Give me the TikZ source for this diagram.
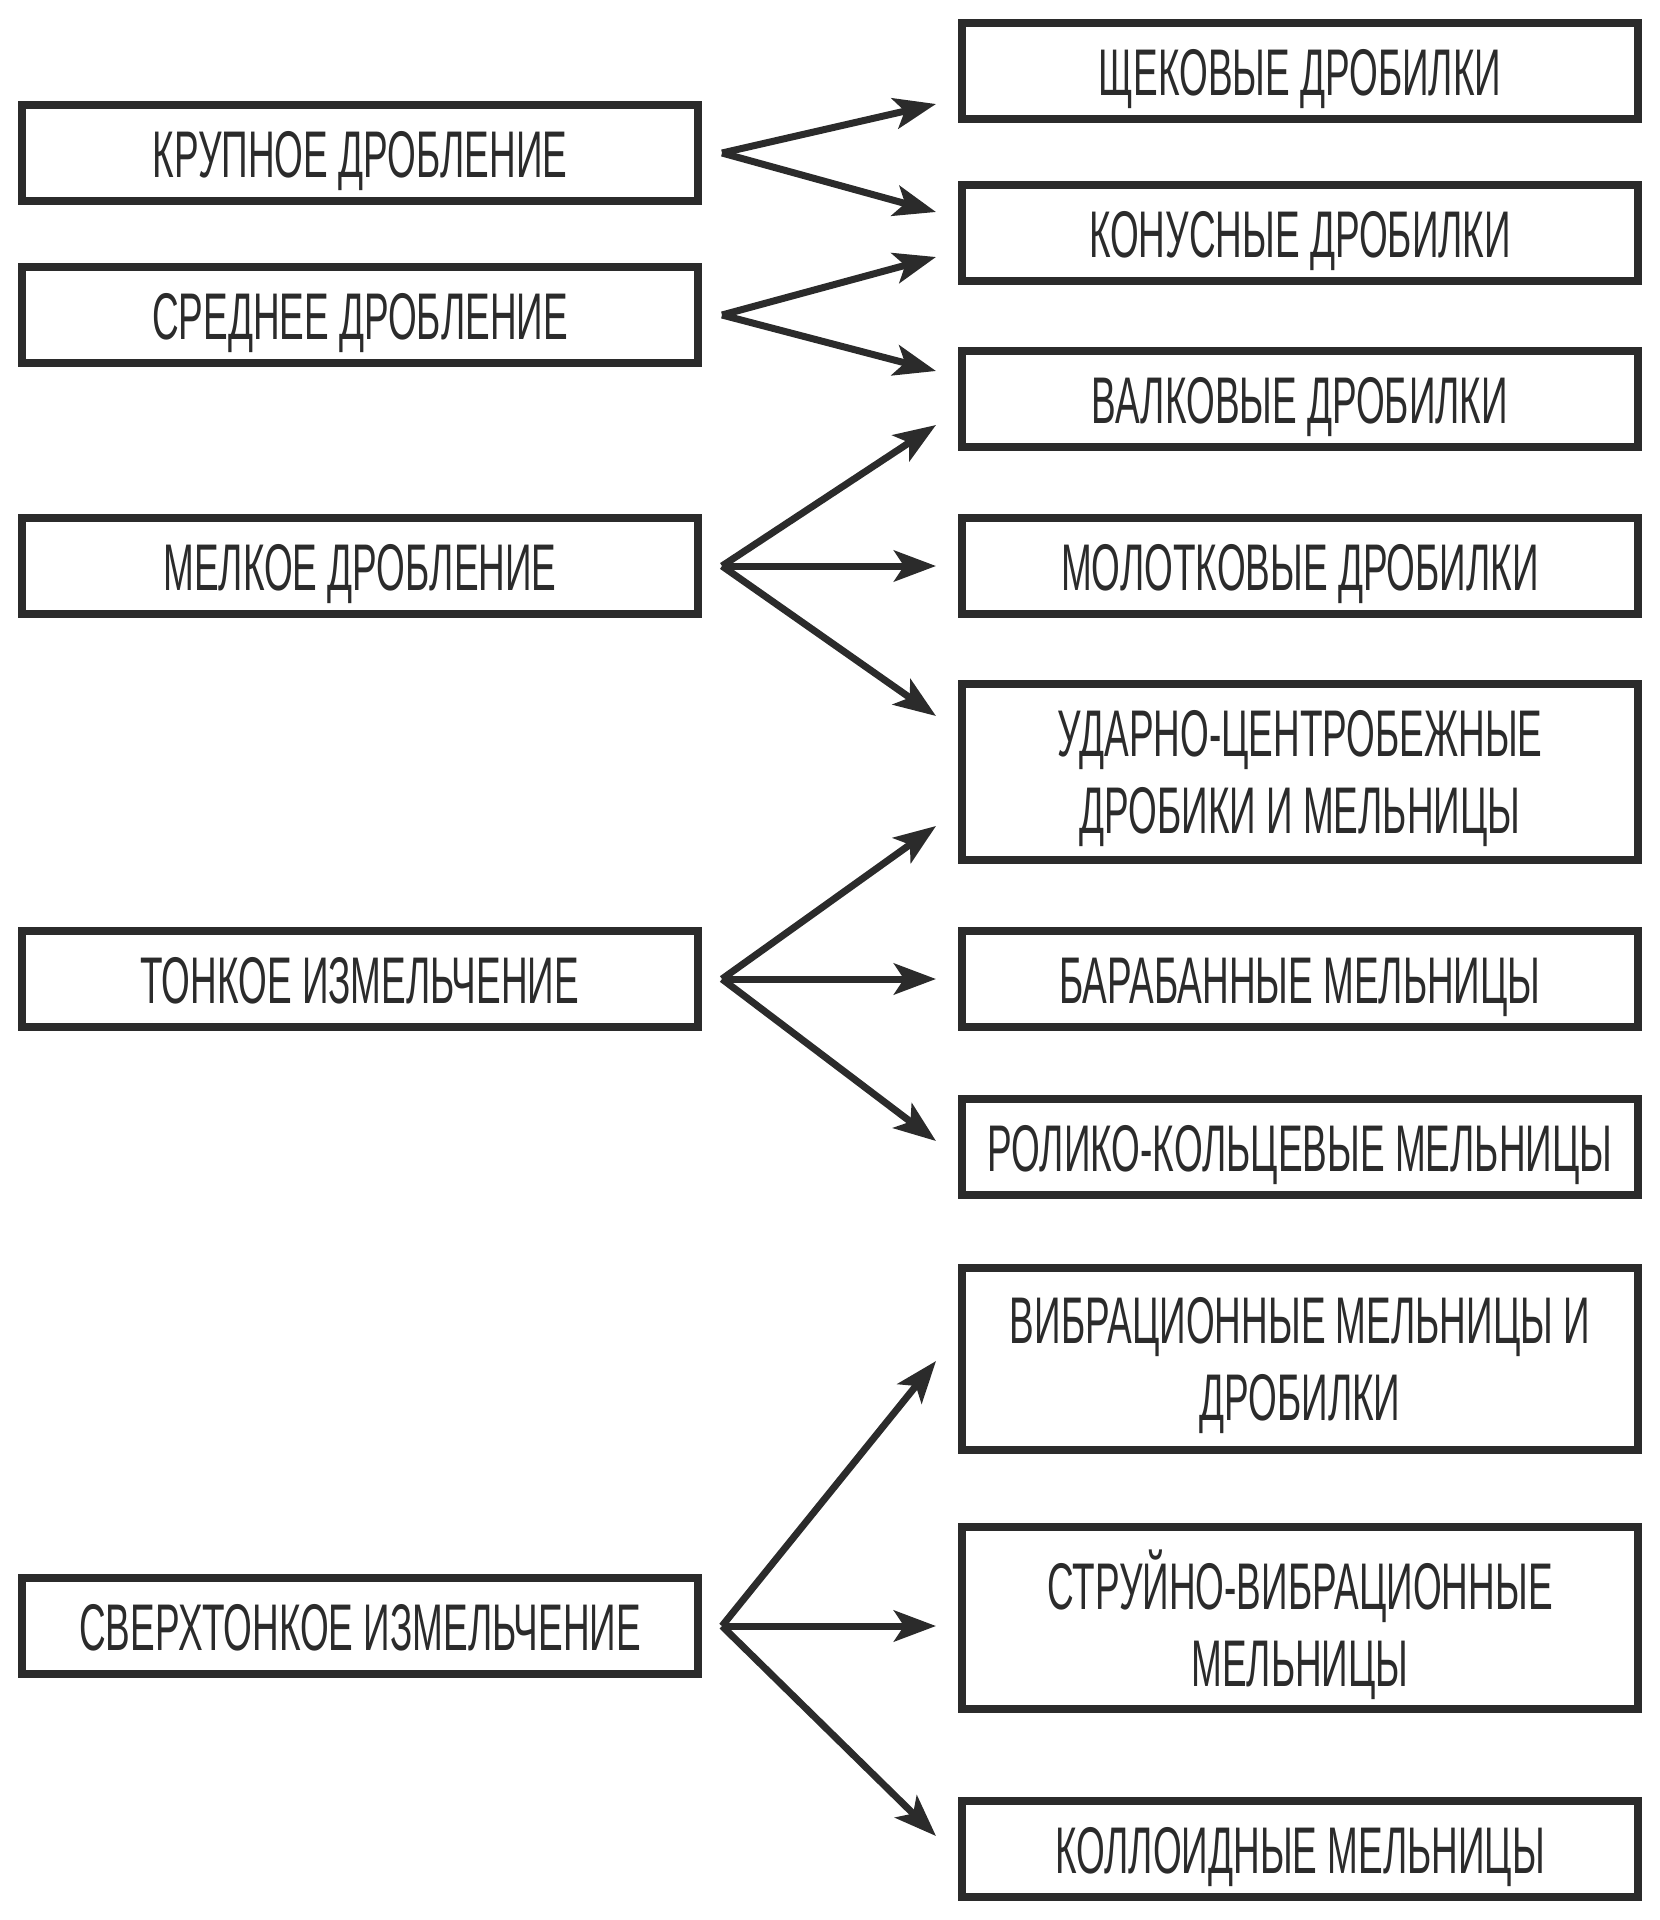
\documentclass[tikz,border=0pt]{standalone}
\usepackage{fontspec}
\setmainfont[FakeStretch=0.56]{Liberation Sans}
\usepackage{tikz}
\usetikzlibrary{arrows.meta}
\definecolor{schemegray}{HTML}{2B2B2B}
\tikzset{
	stagebox/.style={rectangle, draw=schemegray, text=schemegray, line width=8pt, minimum width=676pt, minimum height=96pt, inner sep=0pt, font=\fontsize{66}{77}\selectfont, text height=48pt, text depth=0pt},
	machinebox/.style={stagebox},
	machineboxtwo/.style={stagebox, align=center, text height=, text depth=0pt},
	fanarrow/.style={draw=schemegray, line width=7pt, line join=miter, -{Stealth[length=42pt, width=31pt, inset=10pt]}}
}

\begin{document}
\begin{tikzpicture}[x=1pt, y=-1pt]
			\useasboundingbox (0,0) rectangle (1660,1920);
			
			% stages
			\node[stagebox] (krup) at (360,153) {КРУПНОЕ ДРОБЛЕНИЕ};
			\node[stagebox] (sred) at (360,315) {СРЕДНЕЕ ДРОБЛЕНИЕ};
			\node[stagebox] (melk) at (360,566) {МЕЛКОЕ ДРОБЛЕНИЕ};
			\node[stagebox] (tonk) at (360,979) {ТОНКОЕ ИЗМЕЛЬЧЕНИЕ};
			\node[stagebox] (sverh) at (360,1626) {СВЕРХТОНКОЕ ИЗМЕЛЬЧЕНИЕ};
			
			% machines
			\node[machinebox] (shch) at (1300,71) {ЩЕКОВЫЕ ДРОБИЛКИ};
			\node[machinebox] (kon) at (1300,233) {КОНУСНЫЕ ДРОБИЛКИ};
			\node[machinebox] (valk) at (1300,399) {ВАЛКОВЫЕ ДРОБИЛКИ};
			\node[machinebox] (molot) at (1300,566) {МОЛОТКОВЫЕ ДРОБИЛКИ};
			\node[machineboxtwo, minimum height=176pt] (udar) at (1300,772) {УДАРНО-ЦЕНТРОБЕЖНЫЕ\\ДРОБИКИ И МЕЛЬНИЦЫ};
			\node[machinebox] (barab) at (1300,979) {БАРАБАННЫЕ МЕЛЬНИЦЫ};
			\node[machinebox] (rolik) at (1300,1147) {РОЛИКО-КОЛЬЦЕВЫЕ МЕЛЬНИЦЫ};
			\node[machineboxtwo, minimum height=182pt] (vibr) at (1300,1359) {ВИБРАЦИОННЫЕ МЕЛЬНИЦЫ И\\ДРОБИЛКИ};
			\node[machineboxtwo, minimum height=182pt] (strui) at (1300,1618) {СТРУЙНО-ВИБРАЦИОННЫЕ\\МЕЛЬНИЦЫ};
			\node[machinebox] (koll) at (1300,1849) {КОЛЛОИДНЫЕ МЕЛЬНИЦЫ};
			
			% fan points
			\coordinate (krupO) at ([xshift=20pt]krup.east);
			\coordinate (sredO) at ([xshift=20pt]sred.east);
			\coordinate (melkO) at ([xshift=20pt]melk.east);
			\coordinate (tonkO) at ([xshift=20pt]tonk.east);
			\coordinate (sverhO) at ([xshift=20pt]sverh.east);
			
			\draw[fanarrow] (krupO) -- ([xshift=-22pt,yshift=-33pt]shch.west);
			\draw[fanarrow] (krupO) -- ([xshift=-22pt,yshift=21pt]kon.west);
			\draw[fanarrow] (sredO) -- ([xshift=-22pt,yshift=-24pt]kon.west);
			\draw[fanarrow] (sredO) -- ([xshift=-22pt,yshift=28pt]valk.west);
			\draw[fanarrow] (melkO) -- ([xshift=-22pt,yshift=-26pt]valk.west);
			\draw[fanarrow] (melkO) -- ([xshift=-22pt]molot.west);
			\draw[fanarrow] (melkO) -- ([xshift=-22pt,yshift=56pt]udar.west);
			\draw[fanarrow] (tonkO) -- ([xshift=-22pt,yshift=-54pt]udar.west);
			\draw[fanarrow] (tonkO) -- ([xshift=-22pt]barab.west);
			\draw[fanarrow] (tonkO) -- ([xshift=-22pt,yshift=6pt]rolik.west);
			\draw[fanarrow] (sverhO) -- ([xshift=-22pt,yshift=-2pt]vibr.west);
			\draw[fanarrow] (sverhO) -- ([xshift=-22pt]sverhO -| strui.west);
			\draw[fanarrow] (sverhO) -- ([xshift=-22pt,yshift=13pt]koll.west);
\end{tikzpicture}
\end{document}
